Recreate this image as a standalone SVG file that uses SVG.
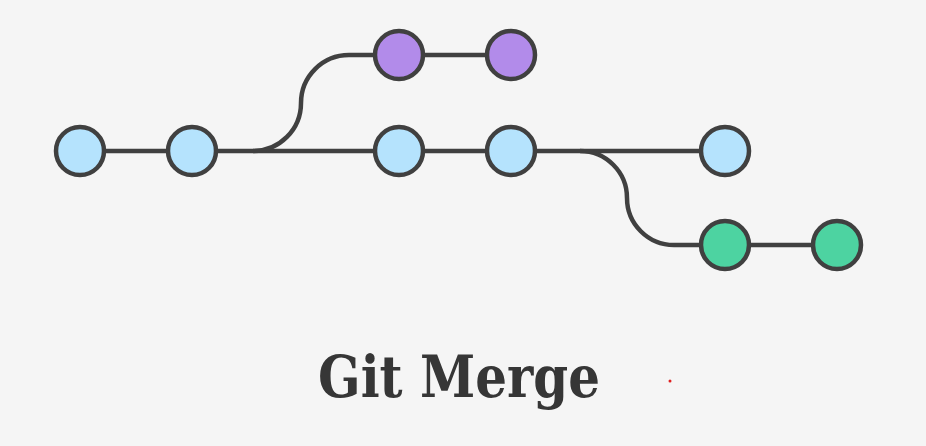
<svg xmlns="http://www.w3.org/2000/svg" width="926" height="446" viewBox="0 0 926 446">
<style>
.c{stroke:#404040;stroke-width:4.5}
.b{fill:#b5e3fd}
.p{fill:#b28bea}
.g{fill:#4dd3a1}
.l{stroke:#404040;stroke-width:4.5;fill:none}
.t{font-family:"DejaVu Serif",serif;font-weight:bold;font-size:58px;fill:#363636}
</style>
<rect width="926" height="446" fill="#f5f5f5"/>
<g id="connectors">
<path class="l" d="M80,151 L725,151"/>
<path class="l" d="M253,151 A48,48 0 0 0 301,103 A48,48 0 0 1 349,55 L511,55"/>
<path class="l" d="M580,151 A47,47 0 0 1 627,198 A47,47 0 0 0 674,245 L837,245"/>
</g>
<g id="n1"><circle class="c b" cx="80" cy="151" r="24"/></g>
<g id="n2"><circle class="c b" cx="192" cy="151" r="24"/></g>
<g id="n3"><circle class="c b" cx="399" cy="151" r="24"/></g>
<g id="n4"><circle class="c b" cx="511" cy="151" r="24"/></g>
<g id="n5"><circle class="c b" cx="725" cy="151" r="24"/></g>
<g id="p1"><circle class="c p" cx="399" cy="55" r="24"/></g>
<g id="p2"><circle class="c p" cx="511" cy="55" r="24"/></g>
<g id="g1"><circle class="c g" cx="725" cy="245" r="24"/></g>
<g id="g2"><circle class="c g" cx="837" cy="245" r="24"/></g>
<text class="t" x="318" y="397" textLength="282" lengthAdjust="spacingAndGlyphs">Git Merge</text>
<circle cx="670" cy="381" r="1.5" fill="#e02020"/>
</svg>
